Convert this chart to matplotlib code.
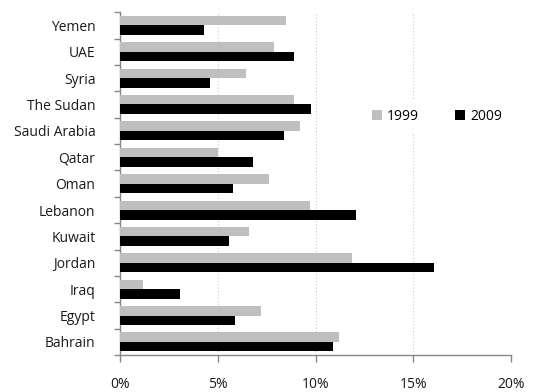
import matplotlib
matplotlib.use("Agg")
import matplotlib.pyplot as plt
import numpy as np
from matplotlib.ticker import FuncFormatter, FixedLocator

countries = ["Bahrain", "Egypt", "Iraq", "Jordan", "Kuwait", "Lebanon", "Oman",
             "Qatar", "Saudi Arabia", "The Sudan", "Syria", "UAE", "Yemen"]
v1999 = [11.18, 7.21, 1.17, 11.86, 6.58, 9.68, 7.60, 4.97, 9.17, 8.88, 6.45, 7.88, 8.49]
v2009 = [10.86, 5.85, 3.06, 16.07, 5.56, 12.07, 5.77, 6.79, 8.36, 9.77, 4.56, 8.88, 4.27]
series_names = ["1999", "2009"]
xticks = [0, 5, 10, 15, 20]

plt.rcParams['font.family'] = ['Open Sans', 'DejaVu Sans']
FS = 10

fig = plt.figure(figsize=(5.33, 3.92), dpi=100)
ax = fig.add_axes([0.226, 0.094, 0.733, 0.875])

y = np.arange(len(countries))
h = 0.36
ax.barh(y + h/2, v1999, height=h, color="#BFBFBF", label=series_names[0], zorder=3)
ax.barh(y - h/2, v2009, height=h, color="#000000", label=series_names[1], zorder=3)

ax.set_xlim(0, 20)
ax.set_ylim(-0.5, len(countries) - 0.5)
ax.set_xticks(xticks)
ax.xaxis.set_major_formatter(FuncFormatter(lambda v, p: f"{int(v)}%"))
ax.set_yticks(y)
ax.set_yticklabels(countries)
ax.yaxis.set_minor_locator(FixedLocator(np.arange(-0.5, len(countries), 1.0)))

ax.tick_params(axis='y', which='major', length=0, pad=18, labelsize=FS, labelcolor="#1a1a1a")
ax.tick_params(axis='y', which='minor', length=4, width=1, color="#868686", direction='out')
ax.tick_params(axis='x', which='major', length=5, width=1, color="#868686", direction='out',
               pad=11, labelsize=FS, labelcolor="#1a1a1a")

ax.grid(axis='x', which='major', color="#C8C8C8", linestyle=(0, (1, 2)), linewidth=0.8, zorder=0)
ax.set_axisbelow(True)

for s in ["top", "right"]:
    ax.spines[s].set_visible(False)
for s in ["left", "bottom"]:
    ax.spines[s].set_color("#868686")
    ax.spines[s].set_linewidth(1)

leg = ax.legend(loc="center", bbox_to_anchor=(0.81, 0.697), ncol=2, frameon=True,
                fontsize=FS, handlelength=0.75, handleheight=0.75, handletextpad=0.35,
                columnspacing=2.6, borderpad=0.6, fancybox=False)
leg.get_frame().set_edgecolor("white")
leg.get_frame().set_facecolor("white")
leg.get_frame().set_alpha(1.0)

fig.savefig("out.png", dpi=100)
